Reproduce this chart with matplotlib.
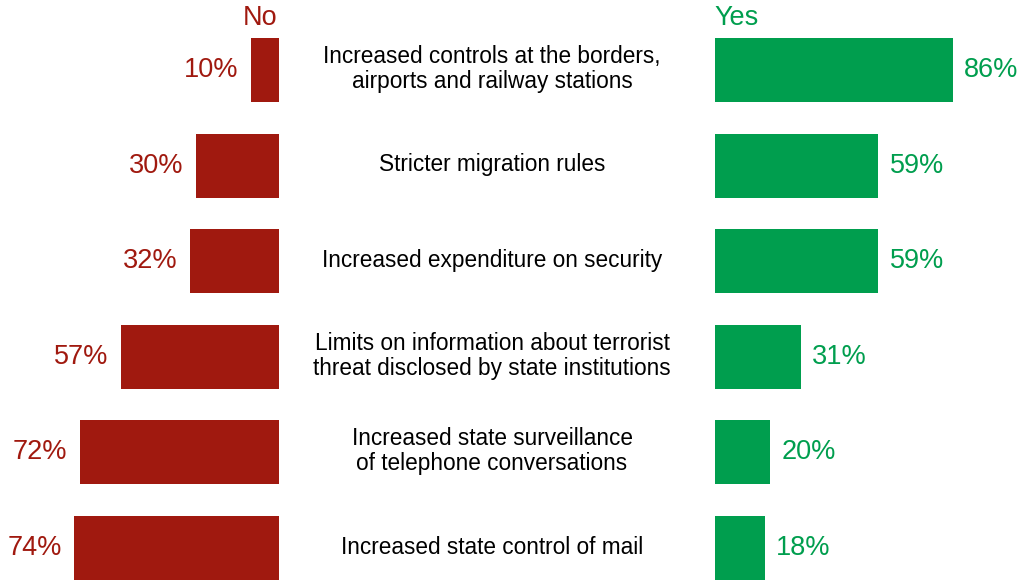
import matplotlib
matplotlib.use("Agg")
import matplotlib.pyplot as plt

plt.rcParams['font.family'] = ['Liberation Sans', 'DejaVu Sans']

categories = [
    "Increased controls at the borders,\nairports and railway stations",
    "Stricter migration rules",
    "Increased expenditure on security",
    "Limits on information about terrorist\nthreat disclosed by state institutions",
    "Increased state surveillance\nof telephone conversations",
    "Increased state control of mail",
]
no_values = [10, 30, 32, 57, 72, 74]
yes_values = [86, 59, 59, 31, 20, 18]

red = "#A0190F"
green = "#009E4E"

W, H = 1017, 583
fig = plt.figure(figsize=(W / 100, H / 100), dpi=100)

px = 2.77  # pixels per percent
row0, step = 70, 95.6
ylim = ((H - row0) / step, -row0 / step)

ax_no = fig.add_axes([0, 0, 279 / W, 1])
ax_yes = fig.add_axes([715 / W, 0, (W - 715) / W, 1])

rows = list(range(len(categories)))
ax_no.barh(rows, no_values, height=0.67, color=red)
ax_no.set_xlim(279 / px, 0)
ax_yes.barh(rows, yes_values, height=0.67, color=green)
ax_yes.set_xlim(0, (W - 715) / px)

for ax in (ax_no, ax_yes):
    ax.set_ylim(*ylim)
    ax.axis("off")

for i, v in enumerate(no_values):
    ax_no.text(v + 4.5, i, f"{v}%", ha="right", va="center", color=red, fontsize=19.5)
for i, v in enumerate(yes_values):
    ax_yes.text(v + 4, i, f"{v}%", ha="left", va="center", color=green, fontsize=19.5)

for i, c in enumerate(categories):
    y = 1 - (row0 - 1 + step * i) / H
    fig.text(492 / W, y, c, ha="center", va="center", fontsize=16.3,
             linespacing=1.12, color="black")

fig.text(260 / W, 1 - 18 / H, "No", ha="center", va="center", color=red, fontsize=19.5)
fig.text(714 / W, 1 - 18 / H, "Yes", ha="left", va="center", color=green, fontsize=19.5)

fig.savefig("out.png", dpi=100)
